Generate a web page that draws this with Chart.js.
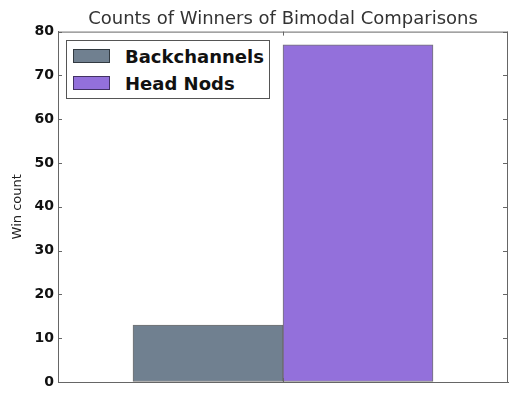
<!DOCTYPE html>
<html>
<head>
<meta charset="utf-8">
<script src="https://cdn.jsdelivr.net/npm/chart.js@4.4.1/dist/chart.umd.min.js"></script>
<style>
  html, body { margin: 0; padding: 0; background: #fff; }
  #wrap { position: relative; width: 512px; height: 395px; }
  #legend {
    position: absolute; left: 66px; top: 40px; width: 202px; height: 57px;
    border: 1px solid #555; background: #fff;
    font-family: "DejaVu Sans", sans-serif; font-weight: bold; font-size: 18px; color: #111;
  }
  .row { position: absolute; left: 6px; height: 14px; display: flex; align-items: center; }
  .sw { width: 35px; height: 12px; border: 1px solid rgba(0,0,0,0.55); margin-right: 15px; }
</style>
</head>
<body>
<div id="wrap">
  <canvas id="c" width="512" height="395"></canvas>
  <div id="legend"></div>
</div>
<script>
// Winner counts for each modality
const categories = ['Backchannels', 'Head Nods'];
const winCounts = [13, 77];
const barColors = ['#708090', '#9370DB'];
const barPositions = [1, 2];
const yTicks = [0, 10, 20, 30, 40, 50, 60, 70, 80];
const xTicks = [1.5];
const axisColor = '#666';

// Frame and inward tick marks on all four edges
const framePlugin = {
  id: 'frame',
  afterDatasetsDraw(chart) {
    const { ctx, chartArea: a, scales } = chart;
    ctx.save();
    ctx.strokeStyle = axisColor;
    ctx.lineWidth = 1;
    ctx.beginPath();
    ctx.moveTo(a.left, a.top + 0.5); ctx.lineTo(a.right, a.top + 0.5);
    ctx.moveTo(a.right - 0.5, a.top); ctx.lineTo(a.right - 0.5, a.bottom);
    yTicks.forEach(v => {
      const y = Math.round(scales.y.getPixelForValue(v)) + 0.5;
      ctx.moveTo(a.right, y); ctx.lineTo(a.right - 5, y);
      ctx.moveTo(a.left, y); ctx.lineTo(a.left + 4, y);
    });
    xTicks.forEach(v => {
      const x = Math.round(scales.x.getPixelForValue(v)) + 0.5;
      ctx.moveTo(x, a.top); ctx.lineTo(x, a.top + 4);
      ctx.moveTo(x, a.bottom); ctx.lineTo(x, a.bottom - 4);
    });
    ctx.stroke();
    ctx.restore();
  }
};

new Chart(document.getElementById('c'), {
  type: 'bar',
  data: {
    datasets: [{
      label: 'Win count',
      data: categories.map((c, i) => ({ x: barPositions[i], y: winCounts[i] })),
      backgroundColor: barColors,
      borderColor: 'rgba(0,0,0,0.55)',
      borderWidth: 1,
      borderSkipped: false,
      barPercentage: 1,
      categoryPercentage: 1
    }]
  },
  options: {
    responsive: false,
    animation: false,
    layout: { padding: { left: 0, right: 4, top: 0, bottom: 5 } },
    plugins: {
      legend: { display: false },
      tooltip: { enabled: false },
      title: {
        display: true,
        fullSize: false,
        text: 'Counts of Winners of Bimodal Comparisons',
        color: '#333',
        font: { family: 'DejaVu Sans', size: 18, weight: 'normal' },
        padding: { top: 9, bottom: 1 }
      }
    },
    scales: {
      x: {
        type: 'linear', min: 0, max: 3, offset: false,
        afterBuildTicks: s => { s.ticks = xTicks.map(v => ({ value: v })); },
        ticks: { display: false },
        grid: { display: false },
        border: { color: axisColor }
      },
      y: {
        min: 0, max: 80,
        afterFit: s => { s.width = 58; },
        afterBuildTicks: s => { s.ticks = yTicks.map(v => ({ value: v })); },
        ticks: {
          color: '#111', padding: 4,
          font: { family: 'DejaVu Sans', size: 14, weight: 'bold' }
        },
        grid: { drawOnChartArea: false, drawTicks: false, tickLength: 0 },
        border: { color: axisColor },
        title: {
          display: true, text: 'Win count', color: '#222',
          font: { family: 'DejaVu Sans', size: 13 },
          padding: { top: 10, bottom: 0 }
        }
      }
    }
  },
  plugins: [framePlugin]
});

// Legend entries from the same category and colour arrays
const legend = document.getElementById('legend');
categories.forEach((name, i) => {
  const row = document.createElement('div');
  row.className = 'row';
  row.style.top = (8 + i * 27) + 'px';
  const sw = document.createElement('div');
  sw.className = 'sw';
  sw.style.background = barColors[i];
  const tx = document.createElement('span');
  tx.textContent = name;
  row.appendChild(sw); row.appendChild(tx);
  legend.appendChild(row);
});
</script>
</body>
</html>
